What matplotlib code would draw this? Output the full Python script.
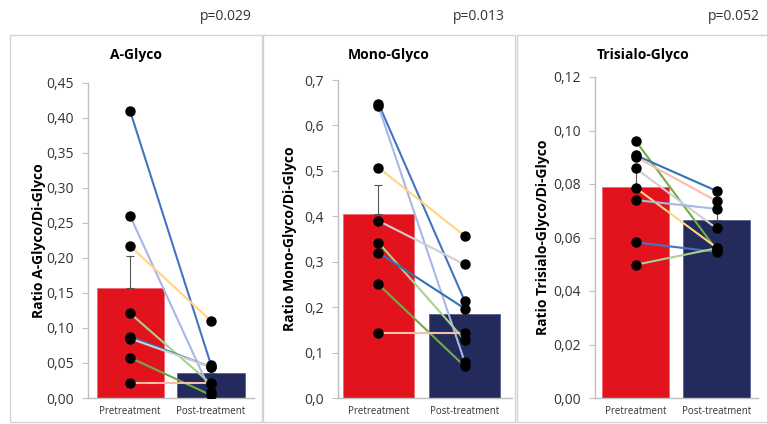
import matplotlib.pyplot as plt
from matplotlib.patches import Rectangle
from matplotlib.ticker import FuncFormatter, MultipleLocator

plt.rcParams['font.family'] = ['Open Sans', 'DejaVu Sans']

groups = ['Pretreatment', 'Post-treatment']

# A-Glyco
a_pre = [0.41, 0.26, 0.217, 0.121, 0.0876, 0.085, 0.0576, 0.021]
a_post = [0.047, 0.008, 0.110, 0.020, 0.044, 0.044, 0.004, 0.021]
a_bar = [0.157, 0.036]
a_err = [0.046, 0.010]

# Mono-Glyco
m_pre = [0.648, 0.642, 0.507, 0.390, 0.342, 0.320, 0.250, 0.142]
m_post = [0.214, 0.080, 0.357, 0.294, 0.128, 0.197, 0.070, 0.142]
m_bar = [0.404, 0.185]
m_err = [0.064, 0.030]

# Trisialo-Glyco
t_pre = [0.0962, 0.0908, 0.0902, 0.0859, 0.0786, 0.0740, 0.0582, 0.0498]
t_post = [0.0553, 0.0774, 0.0736, 0.0634, 0.0562, 0.0707, 0.0546, 0.0560]
t_bar = [0.0787, 0.0665]
t_err = [0.007, 0.005]

titles = ['A-Glyco', 'Mono-Glyco', 'Trisialo-Glyco']
ylabels = ['Ratio A-Glyco/Di-Glyco', 'Ratio Mono-Glyco/Di-Glyco', 'Ratio Trisialo-Glyco/Di-Glyco']
pvals = ['p=0.029', 'p=0.013', 'p=0.052']

blue, lav, orange, lgreen = '#4472C4', '#A9B6E6', '#FFD580', '#A9D18E'
steel, grey, green, salmon = '#2E75B6', '#CFCFCF', '#70AD47', '#F7BFA8'
line_cols = [
    [blue, lav, orange, lgreen, steel, grey, green, salmon],
    [blue, lav, orange, grey, lgreen, steel, green, salmon],
    [green, steel, salmon, grey, orange, lav, blue, lgreen],
]

W, H = 767, 424
fig = plt.figure(figsize=(W / 100, H / 100), dpi=100)

# panel frames (pixels: left, right)
frames = [(10, 262), (263, 515), (517, 770)]
for x0, x1 in frames:
    fig.patches.append(Rectangle((x0 / W, 1 - 422 / H), (x1 - x0) / W, 387 / H,
                                 transform=fig.transFigure, fill=False,
                                 edgecolor='#D3D3D3', lw=1.0))

# axes boxes in pixels: left, right, top, y-label x
boxes = [(88, 254, 83, 46), (338, 512, 80, 297), (595, 758, 77, 550)]
ylims = [(0, 0.45, 0.05, 2), (0, 0.7, 0.1, 1), (0, 0.12, 0.02, 2)]
xlims = [(-0.52, 1.53), (-0.47, 1.55), (-0.5, 1.51)]
data = [(a_pre, a_post, a_bar, a_err), (m_pre, m_post, m_bar, m_err),
        (t_pre, t_post, t_bar, t_err)]

for i in range(3):
    l, r, t, lx = boxes[i]
    ax = fig.add_axes([l / W, 1 - 398 / H, (r - l) / W, (398 - t) / H])
    pre, post, bar, err = data[i]
    ax.bar([0, 1], bar, width=0.83, color=['#E3131E', '#232A5C'],
           edgecolor=['#F06A70', '#5A6190'], linewidth=0.6, zorder=1)
    ax.errorbar([0, 1], bar, yerr=[[0, 0], err], fmt='none', ecolor='#555555',
                elinewidth=0.8, capsize=3, capthick=0.8, zorder=2)
    for k in range(len(pre)):
        ax.plot([0, 1], [pre[k], post[k]], color=line_cols[i][k], lw=1.5, zorder=3)
    ax.plot([0] * len(pre), pre, 'o', color='black', ms=6.5, zorder=4)
    ax.plot([1] * len(post), post, 'o', color='black', ms=6.5, zorder=4)

    lo, hi, step, dec = ylims[i]
    ax.set_ylim(lo, hi)
    ax.set_xlim(*xlims[i])
    ax.yaxis.set_major_locator(MultipleLocator(step))
    ax.yaxis.set_major_formatter(FuncFormatter(
        lambda v, p, d=dec: f'{v:.{d}f}'.replace('.', ',')))
    ax.set_xticks([0, 1])
    ax.set_xticklabels(groups, fontsize=7, color='#333333')
    ax.tick_params(axis='x', length=0, pad=6)
    ax.tick_params(axis='y', length=4, color='#BFBFBF', labelsize=10,
                   labelcolor='#333333', pad=6)
    for s in ['top', 'right']:
        ax.spines[s].set_visible(False)
    for s in ['left', 'bottom']:
        ax.spines[s].set_color('#BFBFBF')
        ax.spines[s].set_linewidth(1.0)
    ax.set_ylabel(ylabels[i], fontsize=10, fontweight='bold')
    ax.yaxis.set_label_coords((lx - l) / (r - l), 0.5)

    x0, x1 = frames[i]
    fig.text((x0 + x1) / 2 / W, 1 - 55 / H, titles[i], ha='center', va='center',
             fontsize=10, fontweight='bold')
    fig.text((x1 - 10) / W, 1 - 17 / H, pvals[i], ha='right', va='center',
             fontsize=10, color='#333333')

fig.savefig('out.png', dpi=100)
